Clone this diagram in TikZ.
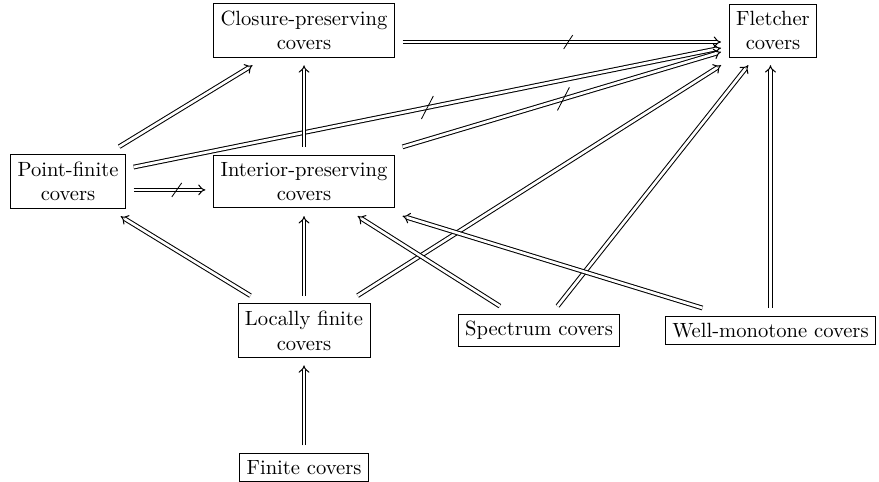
\documentclass[tikz,border=0pt]{standalone}
\usetikzlibrary{arrows.meta,positioning}

\begin{document}
\begin{tikzpicture}[node distance=2.5cm,on grid,
    box/.style={draw,thin,align=center,outer sep=4pt},
    imp/.style={line width=0.5pt,double,double distance=1.3pt,-{Implies}}]
    \useasboundingbox (0,0) rectangle (15,-8.225);
    \node[box] (ip) at (5.188,-3.097)     {Interior-preserving\\covers};
    \node[box] (cp) [above=2.577cm of ip] {Closure-preserving\\covers};
    \node[box] (pf) [left=4.027cm of ip]  {Point-finite\\covers};
    \node[box] (lf) [below=2.543cm of ip] {Locally finite\\covers};
    \node[box] (fi) [below=2.338cm of lf] {Finite covers};
    \node[box] (sp) [right=4.01cm of lf]  {Spectrum covers};
    \node[box] (wm) [right=3.95cm of sp]  {Well-monotone covers};
    \node[box] (fl) [right=8.003cm of cp] {Fletcher\\covers};

    % non-implications (crossed)
    \draw[imp] ([yshift=-5.6pt]cp.east) -- coordinate[pos=.52] (n1) ([yshift=-5.6pt]fl.west);
    \draw[imp] ([yshift=7pt]pf.east) -- coordinate[pos=.5] (n2) ([yshift=-8.5pt]fl.west);
    \draw[imp] (ip.north east) -- coordinate[pos=.505] (n3) ([yshift=-10.4pt]fl.west);
    \draw[imp] ([yshift=-4.1pt]pf.east) -- coordinate[pos=.6] (n4) ([yshift=-4.1pt]ip.west);

    \path [every edge/.append style={imp}]
        ([xshift=-7pt]pf.north east) edge ([xshift=-25pt]cp.south)
        (ip.north)                   edge (ip.north |- cp.south)
        ([xshift=-26pt]lf.north)     edge ([xshift=-6.3pt]pf.south east)
        (lf.north)                   edge (ip.south)
        ([xshift=26pt]lf.north)      edge (fl.south west)
        ([xshift=-19pt]sp.north)     edge ([xshift=26pt]ip.south)
        ([xshift=9pt]sp.north)       edge ([xshift=-12pt]fl.south)
        ([xshift=-33pt]wm.north)     edge (ip.south east)
        (wm.north)                   edge (wm.north |- fl.south)
        (fi.north)                   edge (fi.north |- lf.south);

    \draw[thin] (n1) +(-2.2pt,-3.4pt) -- +(2.2pt,3.4pt);
    \draw[thin] (n2) +(-2.9pt,-5.6pt) -- +(2.9pt,5.6pt);
    \draw[thin] (n3) +(-2.9pt,-5.6pt) -- +(2.9pt,5.6pt);
    \draw[thin] (n4) +(-2.4pt,-3.4pt) -- +(2.4pt,3.4pt);
\end{tikzpicture}
\end{document}
